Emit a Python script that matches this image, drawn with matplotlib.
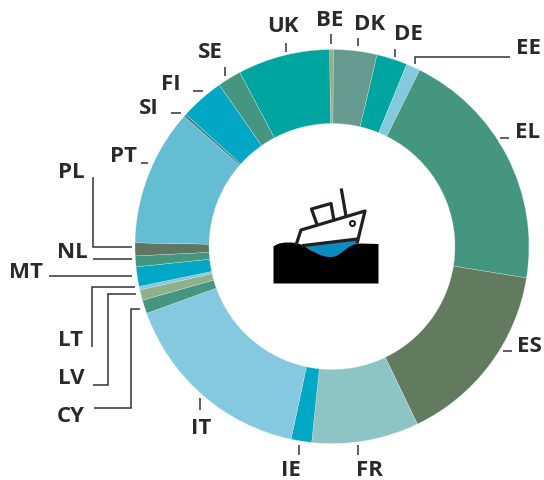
"""Fleet share by country, donut with ship icon."""
import matplotlib
matplotlib.use("Agg")
import matplotlib.pyplot as plt
from matplotlib.patches import Circle, Polygon, PathPatch
from matplotlib.path import Path

plt.rcParams["font.family"] = ["Open Sans", "DejaVu Sans"]

W, H = 544, 480

# clockwise from the top
countries = ["BE", "DK", "DE", "EE", "EL", "ES", "FR", "IE", "IT", "CY",
             "LV", "LT", "MT", "NL", "PL", "PT", "SI", "FI", "SE", "UK"]
shares = [0.31, 3.56, 2.53, 1.14, 20.22, 15.33, 8.78, 1.69, 16.17, 1.11,
          0.86, 0.28, 1.61, 0.89, 1.06, 11.19, 0.22, 3.61, 1.94, 7.56]
colours = ["#93b08c", "#669a90", "#00a5a0", "#84cadd", "#459681", "#627b5f",
           "#8fc4c4", "#00a8c4", "#84c9e0", "#459681", "#90b08c", "#84c9e0",
           "#00a8c6", "#459681", "#5f7662", "#64bdd2", "#3a7f8f", "#00a8c6",
           "#459681", "#00a5a0"]

label_x = [330, 370, 408, 528, 528, 529, 369, 291, 201, 71,
           71, 71, 26, 72, 71, 124, 149, 171, 210, 283]
label_y = [21, 25, 34, 49, 133, 346, 470, 470, 428, 416,
           379, 341, 272, 253, 172, 156, 108, 84, 52, 26]

# leader lines, in picture pixels (y downwards)
leaders = [
    [(331, 34), (331, 44)],
    [(358, 38), (358, 46)],
    [(395, 49), (395, 57)],
    [(415, 64), (415, 56.5), (510, 56.5)],
    [(500, 138), (509, 138)],
    [(503, 351), (512, 351)],
    [(358, 445), (358, 455)],
    [(299, 445), (299, 455)],
    [(200, 398), (200, 410)],
    [(94, 408), (131, 408), (131, 309), (140, 309)],
    [(93, 385), (108, 385), (108, 294), (136, 294)],
    [(92, 347), (92, 287), (135, 287)],
    [(49, 276), (132, 276)],
    [(93, 259), (132, 259)],
    [(93, 177), (93, 247), (132, 247)],
    [(141, 163), (148, 163)],
    [(171, 113), (181, 113)],
    [(193, 91), (203, 91)],
    [(225, 67), (225, 76)],
    [(286, 43), (286, 52)],
]


def flip(points):
    return [(x, H - y) for x, y in points]


fig = plt.figure(figsize=(W / 100, H / 100), dpi=100)
ax = fig.add_axes([0, 0, 1, 1])

ax.pie(shares, colors=colours, center=(332, H - 246.5), radius=197,
       startangle=90.7, counterclock=False,
       wedgeprops={"width": 74, "edgecolor": "#dfeeee", "linewidth": 0.2})

ax.set_xlim(0, W)
ax.set_ylim(0, H)
ax.set_aspect("equal")
ax.axis("off")

for name, x, y in zip(countries, label_x, label_y):
    ax.text(x, H - y, name, ha="center", va="center", fontsize=16,
            fontweight="bold", color="#2b2a29")

for pts in leaders:
    xs, ys = zip(*flip(pts))
    ax.plot(xs, ys, color="#333333", lw=1.1, solid_capstyle="butt",
            solid_joinstyle="miter")

# ship icon
INK = "#231f20"
blue = Polygon(flip([(303, 245.5), (357, 239), (360, 250), (330, 262)]),
               closed=True, fc="#0a8cc0", ec="none", zorder=3)
ax.add_patch(blue)

sea_pts = [(273.5, 283.5), (273.5, 246.5),
           (279, 242.5), (284, 242.5), (289, 242.5),
           (296, 242.5), (299, 243.5), (303, 245.5),
           (314, 252), (320, 257), (331, 257),
           (342, 257), (346, 244), (360, 243.5),
           (378.5, 244), (378.5, 283.5), (273.5, 283.5)]
sea_codes = [Path.MOVETO, Path.LINETO,
             Path.CURVE4, Path.CURVE4, Path.CURVE4,
             Path.CURVE4, Path.CURVE4, Path.CURVE4,
             Path.CURVE4, Path.CURVE4, Path.CURVE4,
             Path.CURVE4, Path.CURVE4, Path.CURVE4,
             Path.LINETO, Path.LINETO, Path.CLOSEPOLY]
ax.add_patch(PathPatch(Path(flip(sea_pts), sea_codes), fc="black", ec="none", zorder=4))

ship_lines = [
    [(296.5, 243.5), (301, 230), (365, 211), (357.5, 241.5)],
    [(303.5, 245.5), (357.5, 239)],
    [(316.5, 223), (311.5, 209), (331, 203.5), (333.5, 218)],
    [(346, 216), (341.5, 190)],
]
for pts in ship_lines:
    xs, ys = zip(*flip(pts))
    ax.plot(xs, ys, color=INK, lw=2.3, solid_joinstyle="round", zorder=5)
ax.add_patch(Circle((352.5, H - 223.5), 2.5, fc="white", ec=INK, lw=1.5, zorder=5))

fig.savefig("out.png", dpi=100)
